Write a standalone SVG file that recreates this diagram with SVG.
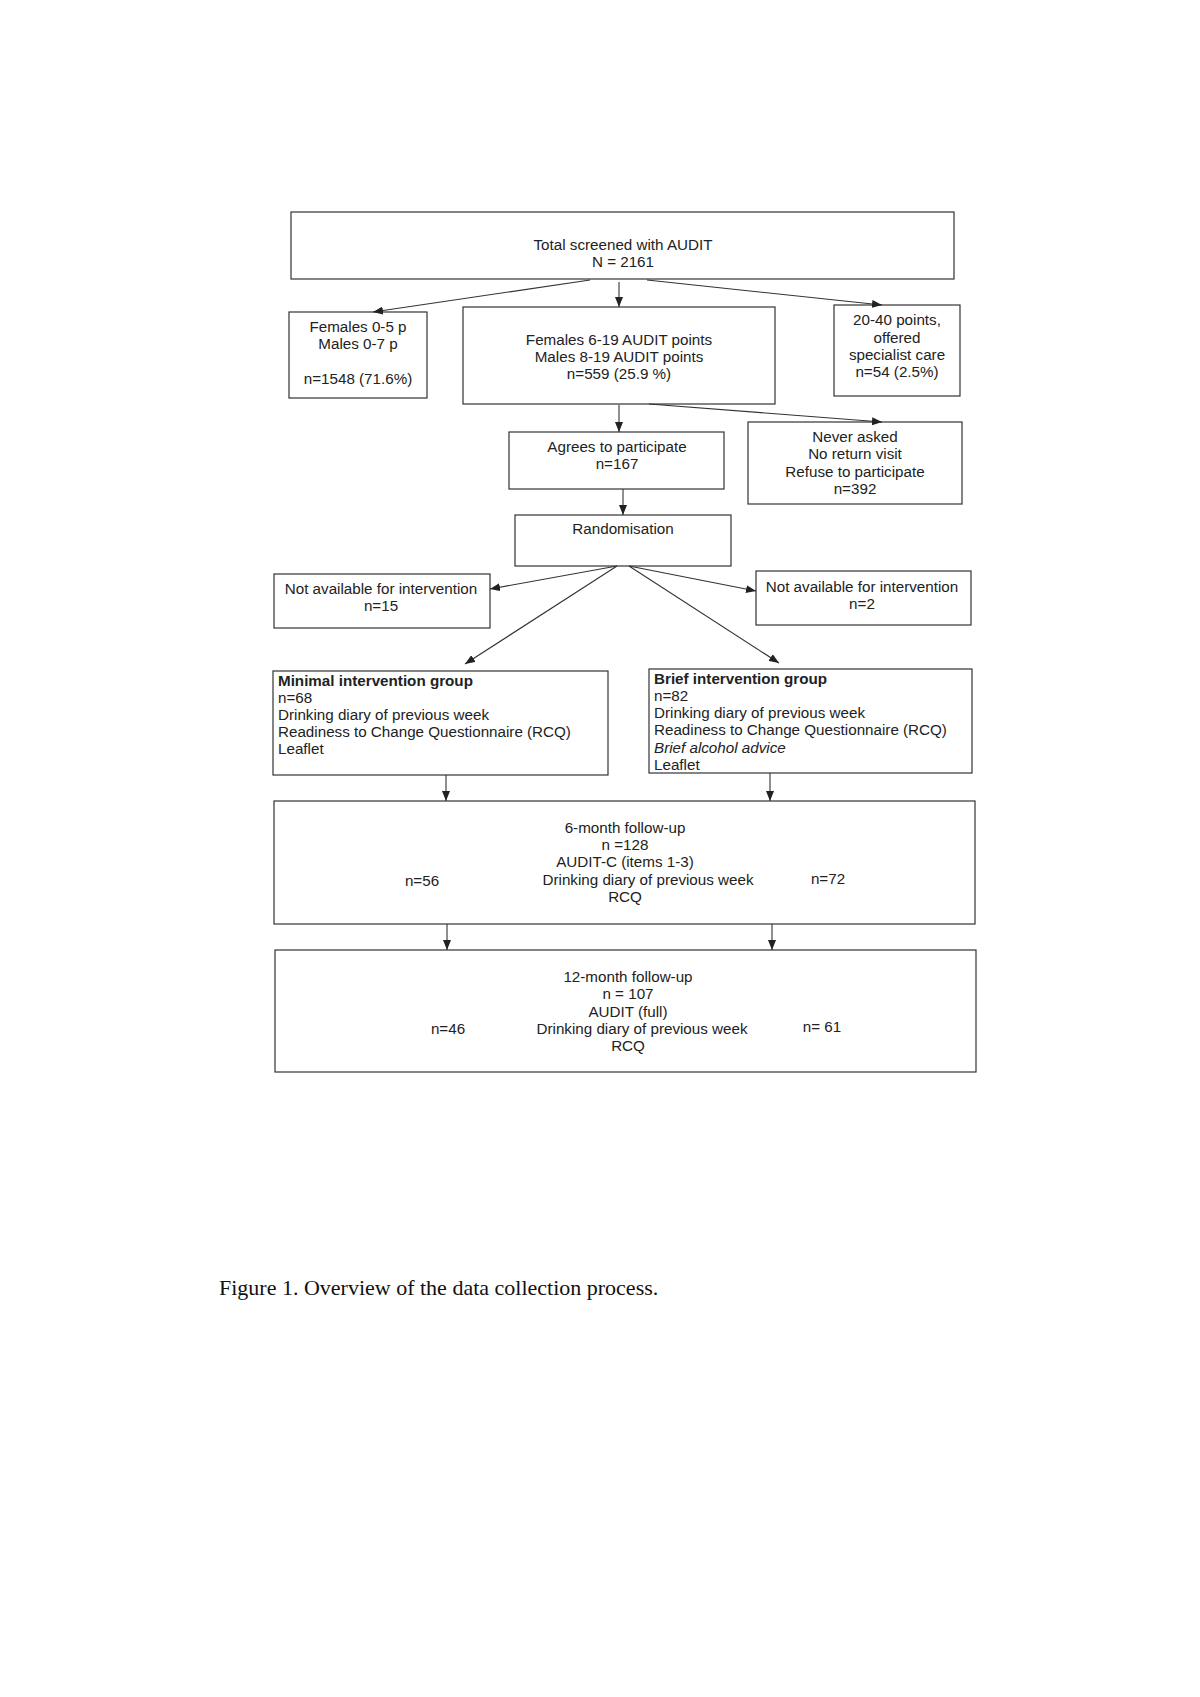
<svg xmlns="http://www.w3.org/2000/svg" width="1200" height="1697" viewBox="0 0 1200 1697">
<defs>
<marker id="ah" markerWidth="10" markerHeight="8" refX="10" refY="4" orient="auto" markerUnits="userSpaceOnUse">
<path d="M0,0 L10,4 L0,8 Z" fill="#222"/>
</marker>
<style>
.box{fill:#fff;stroke:#333;stroke-width:1.2}
.t{font-family:"Liberation Sans",Arial,sans-serif;font-size:15.2px;fill:#222}
.c{text-anchor:middle}
.b{font-weight:bold}
.i{font-style:italic}
.con line{stroke:#333;stroke-width:1.1;marker-end:url(#ah)}
.cap{font-family:"Liberation Serif","Times New Roman",serif;font-size:22px;fill:#111}
</style>
</defs>
<rect width="1200" height="1697" fill="#fff"/>

<g id="total">
<rect class="box" x="291" y="212" width="663" height="67"/>
<text class="t c" x="623" y="250">Total screened with AUDIT</text>
<text class="t c" x="623" y="267">N = 2161</text>
</g>

<g id="low">
<rect class="box" x="289" y="312" width="138" height="86"/>
<text class="t c" x="358" y="332">Females 0-5 p</text>
<text class="t c" x="358" y="349">Males 0-7 p</text>
<text class="t c" x="358" y="384">n=1548 (71.6%)</text>
</g>

<g id="mid">
<rect class="box" x="463" y="307" width="312" height="97"/>
<text class="t c" x="619" y="345">Females 6-19 AUDIT points</text>
<text class="t c" x="619" y="362">Males 8-19 AUDIT points</text>
<text class="t c" x="619" y="379">n=559 (25.9 %)</text>
</g>

<g id="high">
<rect class="box" x="834" y="305" width="126" height="91"/>
<text class="t c" x="897" y="325">20-40 points,</text>
<text class="t c" x="897" y="343">offered</text>
<text class="t c" x="897" y="360">specialist care</text>
<text class="t c" x="897" y="377">n=54 (2.5%)</text>
</g>

<g id="agrees">
<rect class="box" x="509" y="432" width="215" height="57"/>
<text class="t c" x="617" y="452">Agrees to participate</text>
<text class="t c" x="617" y="469">n=167</text>
</g>

<g id="never">
<rect class="box" x="748" y="422" width="214" height="82"/>
<text class="t c" x="855" y="442">Never asked</text>
<text class="t c" x="855" y="459">No return visit</text>
<text class="t c" x="855" y="477">Refuse to participate</text>
<text class="t c" x="855" y="494">n=392</text>
</g>

<g id="random">
<rect class="box" x="515" y="515" width="216" height="51"/>
<text class="t c" x="623" y="534">Randomisation</text>
</g>

<g id="na-left">
<rect class="box" x="274" y="574" width="216" height="54"/>
<text class="t c" x="381" y="594">Not available for intervention</text>
<text class="t c" x="381" y="611">n=15</text>
</g>

<g id="na-right">
<rect class="box" x="756" y="571" width="215" height="54"/>
<text class="t c" x="862" y="592">Not available for intervention</text>
<text class="t c" x="862" y="609">n=2</text>
</g>

<g id="minimal">
<rect class="box" x="273" y="671" width="335" height="104"/>
<text class="t b" x="278" y="686">Minimal intervention group</text>
<text class="t" x="278" y="703">n=68</text>
<text class="t" x="278" y="720">Drinking diary of previous week</text>
<text class="t" x="278" y="737">Readiness to Change Questionnaire (RCQ)</text>
<text class="t" x="278" y="754">Leaflet</text>
</g>

<g id="brief">
<rect class="box" x="649" y="669" width="323" height="104"/>
<text class="t b" x="654" y="684">Brief intervention group</text>
<text class="t" x="654" y="701">n=82</text>
<text class="t" x="654" y="718">Drinking diary of previous week</text>
<text class="t" x="654" y="735">Readiness to Change Questionnaire (RCQ)</text>
<text class="t i" x="654" y="753">Brief alcohol advice</text>
<text class="t" x="654" y="770">Leaflet</text>
</g>

<g id="six">
<rect class="box" x="274" y="801" width="701" height="123"/>
<text class="t c" x="625" y="833">6-month follow-up</text>
<text class="t c" x="625" y="850">n =128</text>
<text class="t c" x="625" y="867">AUDIT-C (items 1-3)</text>
<text class="t c" x="648" y="885">Drinking diary of previous week</text>
<text class="t c" x="625" y="902">RCQ</text>
<text class="t c" x="422" y="886">n=56</text>
<text class="t c" x="828" y="884">n=72</text>
</g>

<g id="twelve">
<rect class="box" x="275" y="950" width="701" height="122"/>
<text class="t c" x="628" y="982">12-month follow-up</text>
<text class="t c" x="628" y="999">n = 107</text>
<text class="t c" x="628" y="1017">AUDIT (full)</text>
<text class="t c" x="642" y="1034">Drinking diary of previous week</text>
<text class="t c" x="628" y="1051">RCQ</text>
<text class="t c" x="448" y="1034">n=46</text>
<text class="t c" x="822" y="1032">n= 61</text>
</g>

<g id="connectors" class="con">
<line x1="590" y1="280" x2="373" y2="312"/>
<line x1="619" y1="282" x2="619" y2="307"/>
<line x1="647" y1="280" x2="882" y2="305"/>
<line x1="619" y1="405" x2="619" y2="432"/>
<line x1="649" y1="404" x2="882" y2="422"/>
<line x1="623" y1="489" x2="623" y2="515"/>
<line x1="617" y1="566" x2="490" y2="589"/>
<line x1="617" y1="566" x2="465" y2="664"/>
<line x1="629" y1="566" x2="756" y2="591"/>
<line x1="629" y1="566" x2="779" y2="663"/>
<line x1="446" y1="775" x2="446" y2="801"/>
<line x1="770" y1="773" x2="770" y2="801"/>
<line x1="447" y1="924" x2="447" y2="950"/>
<line x1="772" y1="924" x2="772" y2="950"/>
</g>

<text class="cap" x="219" y="1295">Figure 1. Overview of the data collection process.</text>
</svg>
